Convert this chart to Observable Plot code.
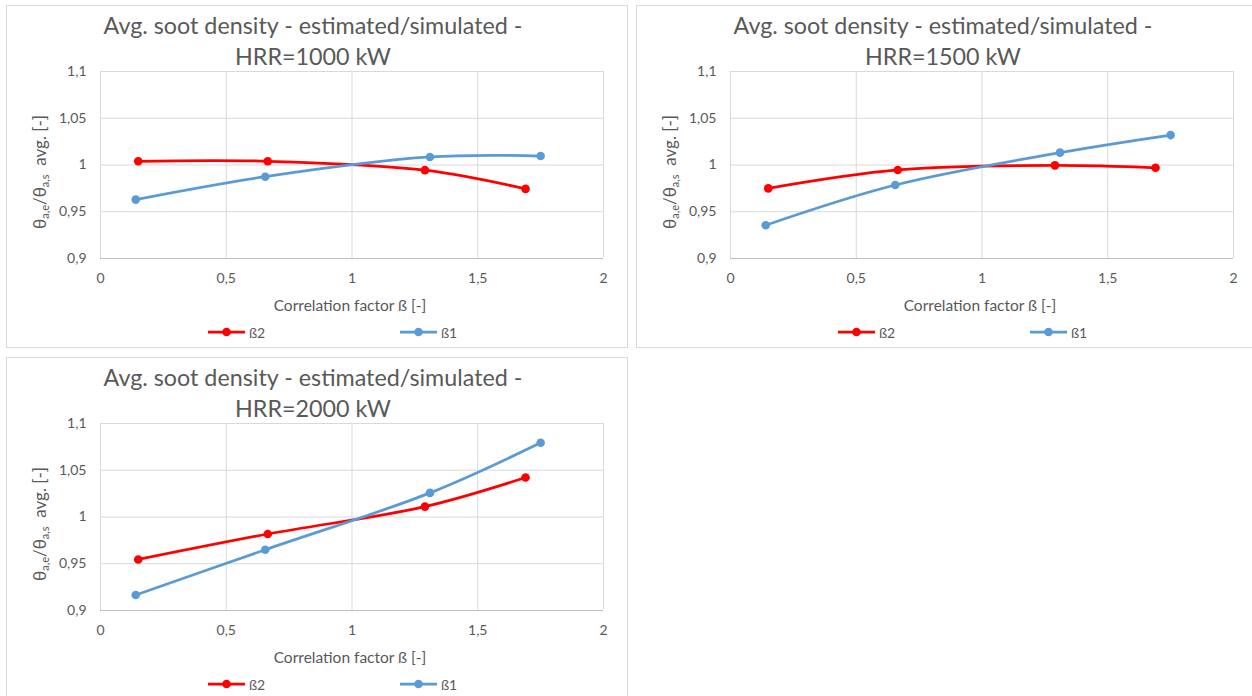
<!DOCTYPE html>
<html><head><meta charset="utf-8">
<script src="https://cdn.jsdelivr.net/npm/d3@7"></script>
<script src="https://cdn.jsdelivr.net/npm/@observablehq/plot@0.6"></script>
<style>
body{margin:0;width:1252px;height:696px;overflow:hidden;background:#fff;font-family:Lato,"Open Sans",sans-serif;color:#595959;}
#root{position:relative;width:1252px;height:696px;overflow:hidden;}
.panel{position:absolute;width:622px;height:343px;box-sizing:border-box;border:1px solid #d9d9d9;background:#fff;}
.panel svg.plot{position:absolute;left:0;top:0;}
.title{position:absolute;left:0;width:612px;text-align:center;font-size:23.3px;line-height:31px;white-space:nowrap;top:4px;}
.xt{position:absolute;left:0;width:686px;text-align:center;font-size:15.5px;top:290px;white-space:nowrap;}
.yl{position:absolute;left:33px;top:166px;transform:translate(-50%,-50%) rotate(-90deg);font-size:17px;white-space:nowrap;}
.yl sub{font-size:11px;vertical-align:-3px;}
.leg{position:absolute;top:317px;height:18px;font-size:14px;display:flex;align-items:center;white-space:nowrap;}
.leg svg{margin-right:4px;}
</style></head>
<body><div id="root"></div>
<script>
// Correlation factor ß values (x) for each series
const betaX2 = [0.15, 0.665, 1.29, 1.69];
const betaX1 = [0.14, 0.655, 1.31, 1.75];
// HRR cases
const hrrCases = ["1000", "1500", "2000"];
// θa,e/θa,s avg. values
const beta2_1000 = [1.004, 1.004, 0.9945, 0.9745];
const beta1_1000 = [0.963, 0.9875, 1.0086, 1.0096];
const beta2_1500 = [0.975, 0.9947, 0.9996, 0.997];
const beta1_1500 = [0.9356, 0.9786, 1.0132, 1.032];
const beta2_2000 = [0.9546, 0.9818, 1.0111, 1.0422];
const beta1_2000 = [0.9166, 0.965, 1.0258, 1.0794];
// ticks
const xTicks = [0, 0.5, 1, 1.5, 2];
const yTicks = [0.9, 0.95, 1, 1.05, 1.1];
const seriesNames = ["ß2", "ß1"];
const colors = {"ß2": "#ff0000", "ß1": "#5b9bd5"};

const panels = [
  {hrr: hrrCases[0], b2: beta2_1000, b1: beta1_1000, left: 6, top: 5},
  {hrr: hrrCases[1], b2: beta2_1500, b1: beta1_1500, left: 636, top: 5},
  {hrr: hrrCases[2], b2: beta2_2000, b1: beta1_2000, left: 6, top: 357}
];
const fmt = d => String(d).replace(".", ",");
const root = document.getElementById("root");

for (const p of panels) {
  const div = document.createElement("div");
  div.className = "panel";
  div.style.left = p.left + "px";
  div.style.top = p.top + "px";
  root.appendChild(div);

  const data = [
    ...betaX2.map((x, i) => ({s: "ß2", x, y: p.b2[i]})),
    ...betaX1.map((x, i) => ({s: "ß1", x, y: p.b1[i]}))
  ];

  const chart = Plot.plot({
    width: 620, height: 341,
    marginLeft: 93, marginRight: 24, marginTop: 65, marginBottom: 89,
    style: {fontFamily: "Lato, 'Open Sans', sans-serif", background: "transparent", overflow: "visible"},
    x: {domain: [0, 2]},
    y: {domain: [0.9, 1.1]},
    color: {domain: seriesNames, range: seriesNames.map(s => colors[s])},
    marks: [
      Plot.gridX(xTicks, {stroke: "#d9d9d9", strokeOpacity: 1, strokeWidth: 1}),
      Plot.gridY(yTicks, {stroke: "#d9d9d9", strokeOpacity: 1, strokeWidth: 1}),
      Plot.ruleY([0.9], {stroke: "#bfbfbf", strokeWidth: 1}),
      Plot.axisX(xTicks, {tickSize: 0, tickPadding: 15, tickFormat: fmt, fontSize: 14, fill: "#595959", label: null}),
      Plot.axisY(yTicks, {tickSize: 0, tickPadding: 14, tickFormat: fmt, fontSize: 14, fill: "#595959", label: null}),
      Plot.line(data, {x: "x", y: "y", z: "s", stroke: "s", strokeWidth: 2.75, curve: "catmull-rom"}),
      Plot.dot(data, {x: "x", y: "y", fill: "s", r: 4.3})
    ]
  });
  chart.classList.add("plot");
  div.appendChild(chart);

  const t = document.createElement("div");
  t.className = "title";
  t.innerHTML = "Avg. soot density - estimated/simulated -<br>HRR=" + p.hrr + " kW";
  div.appendChild(t);

  const xt = document.createElement("div");
  xt.className = "xt";
  xt.textContent = "Correlation factor ß [-]";
  div.appendChild(xt);

  const yl = document.createElement("div");
  yl.className = "yl";
  yl.innerHTML = "θ<sub>a,e</sub>/θ<sub>a,s</sub>&nbsp;&nbsp;avg. [-]";
  div.appendChild(yl);

  const legPos = {"ß2": 201, "ß1": 393};
  for (const s of seriesNames) {
    const l = document.createElement("div");
    l.className = "leg";
    l.style.left = legPos[s] + "px";
    l.innerHTML = `<svg width="37" height="10"><line x1="0" y1="5" x2="37" y2="5" stroke="${colors[s]}" stroke-width="2.75"/><circle cx="18.5" cy="5" r="4.3" fill="${colors[s]}"/></svg><span>${s}</span>`;
    div.appendChild(l);
  }
}
</script></body></html>
